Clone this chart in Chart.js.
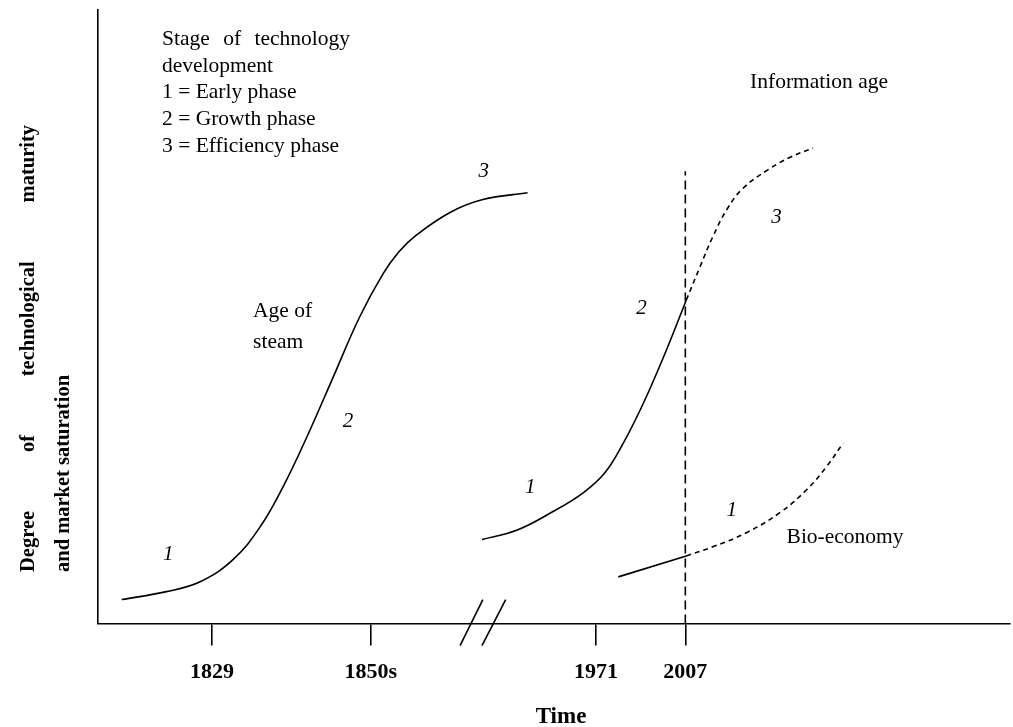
<!DOCTYPE html>
<html>
<head>
<meta charset="utf-8">
<script src="https://cdn.jsdelivr.net/npm/chart.js@4.4.1/dist/chart.umd.min.js"></script>
<style>
  html, body { margin: 0; padding: 0; background: #fff; }
  #wrap { width: 1013px; height: 727px; }
</style>
</head>
<body>
<div id="wrap"><canvas id="chart" width="1013" height="727"></canvas></div>
<script>
// schematic time axis 0..100 (with a break), maturity 0..100
const tickPositions = [12.5, 29.9, 54.6, 64.4];
const tickLabels = ['1829', '1850s', '1971', '2007'];

const steamX = [2.6, 7.5, 11.2, 14.8, 17.8, 20.3, 22.9, 25.8, 28.7, 31.3, 33.0, 34.9, 38.6, 42.2, 47.1];
const steamY = [3.9, 5.2, 6.8, 10.4, 15.8, 22.3, 30.4, 40.2, 50.0, 57.1, 60.6, 63.3, 67.0, 69.1, 70.2];

const infoX = [42.1, 45.9, 49.6, 53.2, 55.6, 57.6, 59.8, 62.0, 64.5];
const infoY = [13.7, 15.2, 18.0, 21.3, 24.6, 29.4, 35.9, 43.4, 52.7];
const infoFutureX = [64.5, 66.0, 67.4, 69.0, 70.7, 73.4, 75.9, 78.4];
const infoFutureY = [52.7, 58.1, 63.0, 67.6, 70.9, 73.9, 76.0, 77.5];

const bioX = [57.05, 64.5];
const bioY = [7.6, 11.0];
const bioFutureX = [64.5, 67.4, 71.1, 74.8, 77.7, 79.9, 81.7];
const bioFutureY = [11.0, 12.5, 14.8, 18.1, 21.8, 25.6, 29.4];

const todayX = [64.4, 64.4];
const todayY = [0, 73.7];

const breakAX = [39.7, 42.2];
const breakBX = [42.1, 44.7];
const breakY = [-3.6, 3.9];

// phase numbers and curve names, in data units
const phaseText = ['1', '2', '3', '1', '2', '3', '1'];
const phaseX = [7.7, 27.4, 42.3, 47.4, 59.6, 74.4, 69.5];
const phaseY = [11.2, 33.0, 73.6, 22.1, 51.3, 66.1, 18.5];
const nameText = ['Age of', 'steam', 'Information age', 'Bio-economy'];
const nameX = [17.0, 17.0, 71.5, 75.5];
const nameY = [50.9, 45.9, 88.2, 14.1];

const legendLines = ['Stage of technology', 'development', '1 = Early phase', '2 = Growth phase', '3 = Efficiency phase'];

const zip = (xs, ys) => xs.map((x, i) => ({ x: x, y: ys[i] }));
const FONT = "'Liberation Serif', 'Times New Roman', serif";

function line(xs, ys, dash, extra) {
    return Object.assign({
        data: zip(xs, ys),
        showLine: true,
        borderColor: '#000',
        borderWidth: 1.6,
        borderDash: dash || [],
        pointRadius: 0,
        tension: 0.4,
        fill: false
    }, extra || {});
}

function justify(ctx, text, x0, width, y) {
    const words = text.split(' ');
    const total = words.reduce((s, w) => s + ctx.measureText(w).width, 0);
    const gap = (width - total) / (words.length - 1);
    let x = x0;
    words.forEach(w => {
        ctx.fillText(w, x, y);
        x += ctx.measureText(w).width + gap;
    });
}

const textPlugin = {
    id: 'texts',
    afterDraw(chart) {
        const ctx = chart.ctx;
        const xs = chart.scales.x, ys = chart.scales.y;
        ctx.save();
        ctx.fillStyle = '#000';

        ctx.font = 'italic 21px ' + FONT;
        ctx.textAlign = 'center';
        ctx.textBaseline = 'middle';
        phaseText.forEach((t, i) => ctx.fillText(t, xs.getPixelForValue(phaseX[i]), ys.getPixelForValue(phaseY[i])));

        ctx.font = '21.5px ' + FONT;
        ctx.textAlign = 'left';
        nameText.forEach((t, i) => ctx.fillText(t, xs.getPixelForValue(nameX[i]), ys.getPixelForValue(nameY[i])));

        // legend block
        ctx.textBaseline = 'alphabetic';
        legendLines.forEach((t, i) => {
            const y = 45 + i * 26.7;
            if (i === 0) justify(ctx, t, 162, 188, y);
            else ctx.fillText(t, 162, y);
        });

        // x title
        ctx.font = 'bold 23px ' + FONT;
        ctx.textAlign = 'center';
        ctx.fillText('Time', 561, 723);

        // y title, two lines, first one justified
        ctx.font = 'bold 20.5px ' + FONT;
        ctx.textAlign = 'left';
        ctx.save();
        ctx.translate(34, 572);
        ctx.rotate(-Math.PI / 2);
        justify(ctx, 'Degree of technological maturity', 0, 447, 0);
        ctx.restore();
        ctx.save();
        ctx.translate(69, 572);
        ctx.rotate(-Math.PI / 2);
        ctx.fillText('and market saturation', 0, 0);
        ctx.restore();

        ctx.restore();
    }
};

new Chart(document.getElementById('chart'), {
    type: 'scatter',
    data: {
        datasets: [
            line(steamX, steamY),
            line(infoX, infoY),
            line(infoFutureX, infoFutureY, [5, 4]),
            line(bioX, bioY, [], { tension: 0 }),
            line(bioFutureX, bioFutureY, [5, 4]),
            line(todayX, todayY, [9, 5], { tension: 0, clip: false }),
            line(breakAX, breakY, [], { tension: 0, clip: false }),
            line(breakBX, breakY, [], { tension: 0, clip: false })
        ]
    },
    options: {
        responsive: false,
        animation: false,
        layout: { padding: { top: 10, right: 3, left: 0, bottom: 0 } },
        plugins: { legend: { display: false }, tooltip: { enabled: false } },
        scales: {
            x: {
                type: 'linear',
                min: 0,
                max: 100,
                afterFit(scale) { scale.height = 103.5; },
                afterBuildTicks(scale) { scale.ticks = tickPositions.map(v => ({ value: v })); },
                ticks: {
                    autoSkip: false,
                    maxRotation: 0,
                    padding: 14,
                    color: '#000',
                    font: { family: FONT, size: 22, weight: 'bold' },
                    callback: (v, i) => tickLabels[i]
                },
                grid: { drawOnChartArea: false, drawTicks: true, tickLength: 22, color: '#000', lineWidth: 1.6 },
                border: { display: true, color: '#000', width: 1.6 }
            },
            y: {
                type: 'linear',
                min: 0,
                max: 100,
                afterFit(scale) { scale.width = 98; },
                ticks: { display: false },
                grid: { display: false },
                border: { display: true, color: '#000', width: 1.6 }
            }
        }
    },
    plugins: [textPlugin]
});
</script>
</body>
</html>
